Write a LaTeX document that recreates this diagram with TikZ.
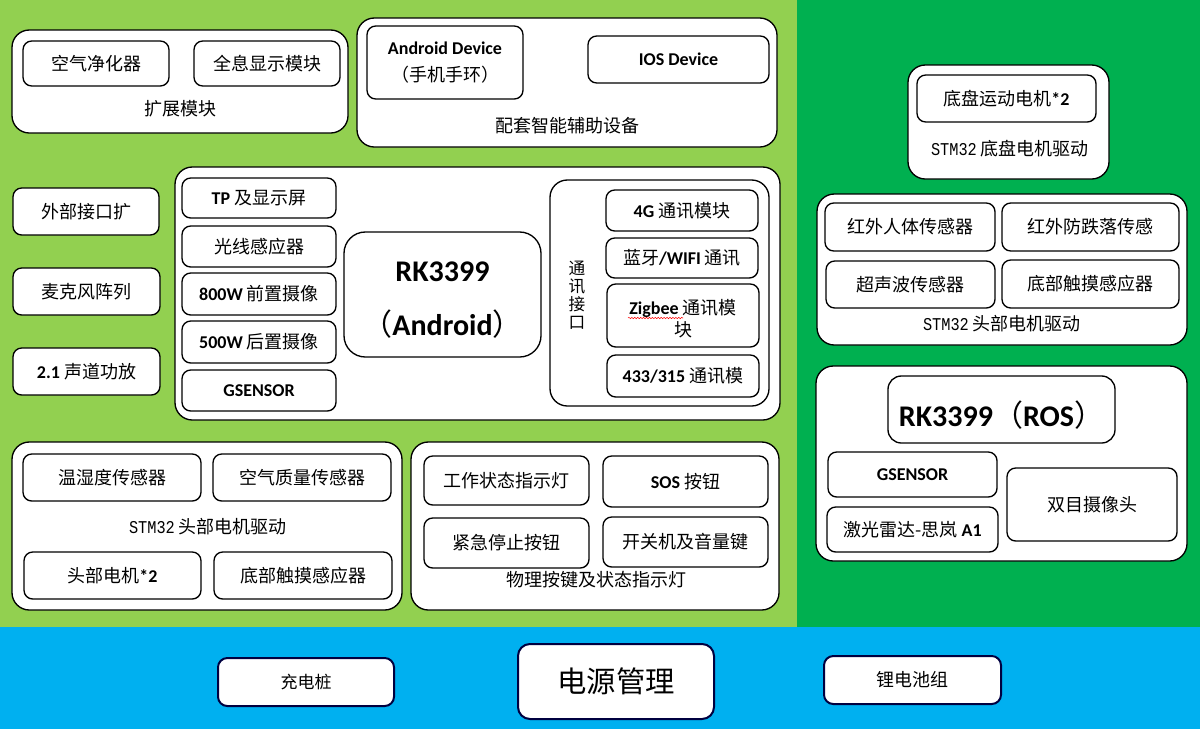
\documentclass[tikz,border=0pt]{standalone}
\usepackage{fontspec}
\setmainfont{Carlito}
\newfontfamily\cjk{Noto Sans CJK SC}
\newfontfamily\stm{Liberation Mono}[FakeStretch=0.85]
\usetikzlibrary{decorations.pathmorphing}
\definecolor{lg}{HTML}{92D050}
\definecolor{dg}{HTML}{00B050}
\definecolor{bl}{HTML}{00B0F0}
\newcommand\zh[1]{{\cjk\mdseries #1}}
\newcommand\dn[2]{\raisebox{-#1}[\height][\depth]{#2}}
\newcommand\bx[7][]{\node[box,#1,minimum width={(#5-#3)*0.75pt},minimum height={(#6-#4)*0.75pt}] (#2) at ({(#3+#5)/2},{(#4+#6)/2}) {#7};}
\tikzset{
 box/.style={draw=black, line width=1pt, fill=white, rounded corners=6.5pt, inner sep=0pt, align=center, font=\fontsize{13.5}{16.5}\selectfont\bfseries},
 grp/.style={rounded corners=13pt},
 pw/.style={draw=black!75!blue, line width=1.5pt, rounded corners=7pt},
 lbl/.style={inner sep=0pt, align=center, font=\fontsize{13.5}{16.5}\selectfont},
}
\begin{document}
\begin{tikzpicture}[x=0.75pt,y=-0.75pt]
\useasboundingbox (0,0) rectangle (1200,729);
\fill[lg] (0,0) rectangle (797,627);
\fill[dg] (797,0) rectangle (1200,627);
\fill[bl] (0,627) rectangle (1200,729);
% expansion modules
\bx[grp]{g1}{12}{30}{348}{133}{}
\node[lbl] (g1t) at (180,109) {\zh{扩展模块}};
\bx{g1a}{23}{41}{169}{86}{\zh{空气净化器}}
\bx{g1b}{194}{41}{340}{86}{\zh{全息显示模块}}
% smart devices
\bx[grp]{g2}{357}{18}{777}{147}{}
\node[lbl] (g2t) at (567,126) {\zh{配套智能辅助设备}};
\bx[font=\fontsize{13.5}{20}\selectfont\bfseries]{g2a}{367}{26}{523}{99}{Android Device\\\zh{（手机手环）}}
\bx{g2b}{588}{36}{769}{83}{IOS Device}
% left column
\bx{e1}{13}{188}{159}{235}{\zh{外部接口扩}}
\bx{e2}{13}{268}{160}{315}{\zh{麦克风阵列}}
\bx{e3}{13}{348}{160}{395}{2.1 \zh{声道功放}}
% android main board
\bx[grp]{g3}{175}{167}{780}{420}{}
\bx{a1}{182}{178}{336}{218}{TP \zh{及显示屏}}
\bx{a2}{182}{226}{336}{267}{\zh{光线感应器}}
\bx{a3}{182}{273}{336}{315}{800W \zh{前置摄像}}
\bx{a4}{182}{321}{336}{363}{500W \zh{后置摄像}}
\bx{a5}{182}{370}{336}{411}{GSENSOR}
\bx[rounded corners=16pt]{rk}{344}{232}{541}{357}{}
\node[lbl, font=\fontsize{22.5}{40.5}\selectfont\bfseries] (rkt) at (442.5,300) {RK3399\\\zh{（}Android\zh{）}};
\bx[grp]{cm}{550}{180}{769}{406}{}
\node[lbl, font=\fontsize{12.5}{13.5}\selectfont\cjk] (cmt) at (577,295) {通\\讯\\接\\口};
\bx{c1}{606}{190}{758}{231}{4G \zh{通讯模块}}
\bx{c2}{606}{238}{758}{278}{\zh{蓝牙}/WIFI \zh{通讯}}
\bx{c3}{607}{284}{759}{347}{\dn{4pt}{\begin{tabular}{@{}c@{}}Zigbee \zh{通讯模}\\\zh{块}\end{tabular}}}
\bx{c4}{607}{355}{759}{397}{433/315 \zh{通讯模}}
\draw[red, line width=0.4pt, decorate, decoration={snake, amplitude=0.5pt, segment length=2.2pt}] (628,318) -- (683,318);
% head STM32 (left)
\bx[grp]{g4}{12}{442}{402}{610}{}
\node[lbl] (g4t) at (208,527) {{\stm STM32} \zh{头部电机驱动}};
\bx{h1}{23}{454}{201}{501}{\zh{温湿度传感器}}
\bx{h2}{213}{454}{391}{501}{\zh{空气质量传感器}}
\bx{h3}{24}{552}{201}{599}{\zh{头部电机}*2}
\bx{h4}{214}{552}{392}{599}{\zh{底部触摸感应器}}
% buttons
\bx[grp]{g5}{411}{442}{779}{610}{}
\node[lbl] (g5t) at (596,580) {\zh{物理按键及状态指示灯}};
\bx{k1}{424}{456}{589}{505}{\zh{工作状态指示灯}}
\bx{k2}{603}{456}{768}{507}{SOS \zh{按钮}}
\bx{k3}{424}{518}{589}{568}{\zh{紧急停止按钮}}
\bx{k4}{603}{517}{768}{567}{\zh{开关机及音量键}}
% right side
\bx[grp]{r1}{908}{65}{1109}{179}{}
\bx{r1a}{917}{75}{1096}{122}{\zh{底盘运动电机}*2}
\node[lbl] (r1t) at (1010,149) {{\stm STM32} \zh{底盘电机驱动}};
\bx[grp]{r2}{817}{194}{1187}{345}{}
\bx{r2a}{825}{203}{995}{251}{\zh{红外人体传感器}}
\bx{r2b}{1002}{203}{1179}{251}{\zh{红外防跌落传感}}
\bx{r2c}{826}{261}{995}{308}{\zh{超声波传感器}}
\bx{r2d}{1002}{260}{1179}{308}{\zh{底部触摸感应器}}
\node[lbl] (r2t) at (1002,324) {{\stm STM32} \zh{头部电机驱动}};
\bx[grp]{r3}{816}{366}{1187}{561}{}
\bx[rounded corners=10pt, font=\fontsize{22.5}{27}\selectfont\bfseries]{ros}{888}{376}{1115}{443}{\dn{4pt}{RK3399\zh{（}ROS\zh{）}}}
\bx{r3a}{828}{452}{997}{497}{GSENSOR}
\bx{r3b}{827}{507}{998}{552}{\zh{激光雷达-思岚} A1}
\bx{r3c}{1007}{468}{1177}{541}{\zh{双目摄像头}}
% power
\bx[pw, font=\fontsize{12.75}{15}\selectfont]{p1}{218}{658}{394}{706}{\zh{充电桩}}
\bx[pw, rounded corners=9pt, font=\fontsize{22}{26}\selectfont]{p2}{518}{644}{714}{719}{\zh{电源管理}}
\bx[pw, font=\fontsize{13.5}{16}\selectfont]{p3}{824}{656}{1001}{704}{\zh{锂电池组}}
\end{tikzpicture}
\end{document}
